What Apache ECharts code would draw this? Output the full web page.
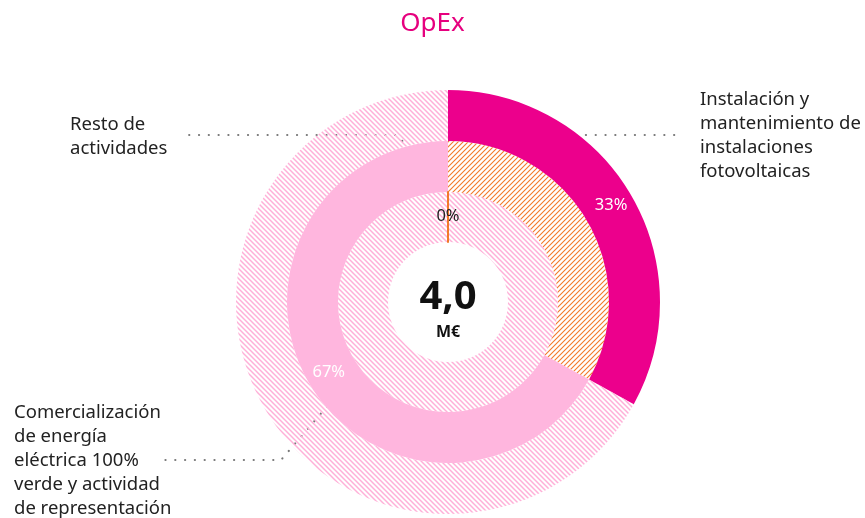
<!DOCTYPE html>
<html>
<head>
<meta charset="utf-8">
<script src="https://cdn.jsdelivr.net/npm/echarts@6/dist/echarts.min.js"></script>
<style>
  html, body { margin: 0; padding: 0; background: #fff; }
  #chart { width: 865px; height: 518px; }
</style>
</head>
<body>
<div id="chart"></div>
<script>
// Activity breakdown of OpEx (share of total, %)
const categories = [
  'Instalación y\nmantenimiento de\ninstalaciones\nfotovoltaicas',
  'Comercialización\nde energía\neléctrica 100%\nverde y actividad\nde representación',
  'Resto de\nactividades'
];
const shares = [33, 67, 0];
const totalLabel = '4,0';
const totalUnit = 'M€';
const titleText = 'OpEx';

const MAGENTA = '#EC008C';
const PINK = '#FFB6DE';
const PINK_LINE = '#FFB0D8';
const ORANGE_LINE = '#F27A2A';
const TEXT = '#222222';
const FONT = '"Noto Sans", sans-serif';

// Diagonal hatch fill used for the unfilled parts of the rings
function hatch(color, dir, width) {
  const s = 5;
  const c = document.createElement('canvas');
  c.width = c.height = s;
  const g = c.getContext('2d');
  g.strokeStyle = color;
  g.lineWidth = width;
  g.beginPath();
  if (dir === '/') {
    g.moveTo(-1, s + 1); g.lineTo(s + 1, -1);
    g.moveTo(-1, 1); g.lineTo(1, -1);
    g.moveTo(s - 1, s + 1); g.lineTo(s + 1, s - 1);
  } else {
    g.moveTo(-1, -1); g.lineTo(s + 1, s + 1);
    g.moveTo(s - 1, -1); g.lineTo(s + 1, 1);
    g.moveTo(-1, s - 1); g.lineTo(1, s + 1);
  }
  g.stroke();
  return { image: c, repeat: 'repeat' };
}
const pinkHatch = hatch(PINK_LINE, '\\', 1.5);
const orangeHatch = hatch(ORANGE_LINE, '/', 1.1);

const cx = 448, cy = 302;
const rings = { outer: [161, 212], middle: [110, 161], inner: [60, 110] };

function pct(v) { return v + '%'; }

const base = {
  type: 'pie',
  center: [cx, cy],
  startAngle: 90,
  clockwise: true,
  silent: true,
  avoidLabelOverlap: false,
  labelLine: { show: false },
  emphasis: { disabled: true }
};

const pctStyle = { show: true, position: 'inside', fontSize: 16.5, fontFamily: FONT };

const series = [
  Object.assign({}, base, {
    radius: rings.outer,
    data: [
      { name: categories[0], value: shares[0], itemStyle: { color: MAGENTA },
        label: Object.assign({ formatter: pct(shares[0]), color: '#fff' }, pctStyle) },
      { name: 'rest0', value: 100 - shares[0], itemStyle: { color: pinkHatch }, label: { show: false } }
    ]
  }),
  Object.assign({}, base, {
    radius: rings.middle,
    data: [
      { name: 'rest1', value: 100 - shares[1], itemStyle: { color: orangeHatch }, label: { show: false } },
      { name: categories[1], value: shares[1], itemStyle: { color: PINK },
        label: Object.assign({ formatter: pct(shares[1]), color: '#fff' }, pctStyle) }
    ]
  }),
  // Inner ring: the zero-share slice is listed last so it sits on top, closing the circle at 12 o'clock
  Object.assign({}, base, {
    radius: rings.inner,
    data: [
      { name: 'rest2', value: 100 - shares[2], itemStyle: { color: pinkHatch }, label: { show: false } },
      { name: categories[2], value: shares[2],
        itemStyle: { color: ORANGE_LINE, borderColor: ORANGE_LINE, borderWidth: 2 },
        label: Object.assign({ formatter: pct(shares[2]), color: TEXT, offset: [0, 2] }, pctStyle) }
    ]
  })
];

// Point on a ring: angle in degrees clockwise from 12 o'clock
function polar(fraction, r) {
  const a = (fraction * 360 - 90) * Math.PI / 180;
  return [cx + r * Math.cos(a), cy + r * Math.sin(a)];
}

const dotted = { stroke: '#777777', lineWidth: 2.2, lineDash: [0.1, 9.7], lineCap: 'round', fill: null };

const p0 = polar(shares[0] / 100 * 0.32, 202);
const p2 = polar(0, rings.middle[0]);
const p1 = polar((100 - shares[1] + shares[1] * 0.46) / 100, 150);

const leaders = [
  [p0, [p0[0] + 2, 135], [680, 135]],
  [p2, [397, 135], [183, 135]],
  [p1, [281, 460], [165, 460]]
];

const labelStyle = { fill: TEXT, fontSize: 18.5, fontFamily: FONT, lineHeight: 24 };

const graphic = leaders.map(pts => ({
  type: 'polyline', shape: { points: pts }, style: dotted, silent: true
})).concat([
  { type: 'text', left: 700, top: 88, style: Object.assign({ text: categories[0] }, labelStyle) },
  { type: 'text', left: 70, top: 113, style: Object.assign({ text: categories[2] }, labelStyle) },
  { type: 'text', left: 14, top: 401, style: Object.assign({ text: categories[1] }, labelStyle) },
  { type: 'text', x: cx, y: cy - 4, style: { text: totalLabel, fill: '#111', fontSize: 40, fontWeight: 'bold', fontFamily: FONT, align: 'center', verticalAlign: 'middle' } },
  { type: 'text', x: cx, y: cy + 30, style: { text: totalUnit, fill: '#111', fontSize: 16, fontWeight: 'bold', fontFamily: FONT, align: 'center', verticalAlign: 'middle' } }
]);

const chart = echarts.init(document.getElementById('chart'), null, { renderer: 'canvas' });
chart.setOption({
  backgroundColor: '#fff',
  animation: false,
  title: {
    text: titleText, left: 'center', top: 6,
    textStyle: { color: '#E6007E', fontSize: 26, fontWeight: 'normal', fontFamily: FONT }
  },
  series: series,
  graphic: graphic
});
</script>
</body>
</html>
